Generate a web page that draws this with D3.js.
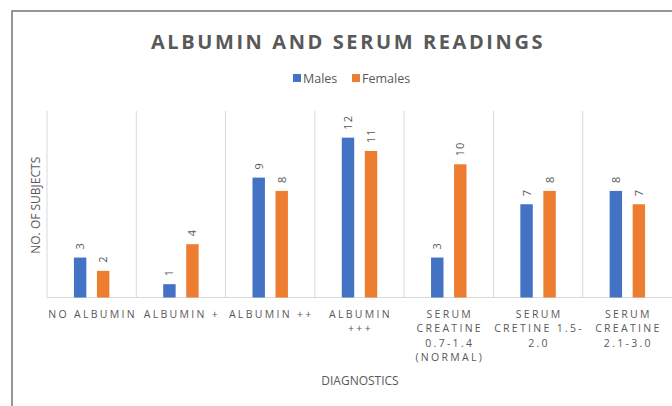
<!DOCTYPE html>
<html>
<head>
<meta charset="utf-8">
<script src="https://cdn.jsdelivr.net/npm/d3@7"></script>
<style>
  body { margin: 0; background: #fff; }
  text { font-family: "Open Sans", sans-serif; fill: #595959; }
</style>
</head>
<body>
<div id="chart"></div>
<script>
// data
const categories = [
  ["NO ALBUMIN"],
  ["ALBUMIN +"],
  ["ALBUMIN ++"],
  ["ALBUMIN", "+++"],
  ["SERUM", "CREATINE", "0.7-1.4", "(NORMAL)"],
  ["SERUM", "CRETINE 1.5-", "2.0"],
  ["SERUM", "CREATINE", "2.1-3.0"]
];
const seriesNames = ["Males", "Females"];
const males = [3, 1, 9, 12, 3, 7, 8];
const females = [2, 4, 8, 11, 10, 8, 7];
const yTicks = [0, 14];

const width = 672, height = 406;
const margin = { top: 111, bottom: 108.5, left: 47, right: 0 };

const svg = d3.select('#chart').append('svg')
  .attr('width', width)
  .attr('height', height);

// frame
svg.append('path')
  .attr('d', `M12,${height} L12,11 L${width},11`)
  .attr('fill', 'none')
  .attr('stroke', '#767676')
  .attr('stroke-width', 1.5);

const keys = categories.map((c, i) => i);
const x = d3.scaleBand()
  .domain(keys)
  .range([margin.left, width - margin.right])
  .padding(0);

const xSub = d3.scaleBand()
  .domain(seriesNames)
  .range([0, x.bandwidth()])
  .paddingInner(0.46)
  .paddingOuter(1.17);

const y = d3.scaleLinear()
  .domain(d3.extent(yTicks))
  .range([height - margin.bottom, margin.top]);

const color = d3.scaleOrdinal()
  .domain(seriesNames)
  .range(["#4472C4", "#ED7D31"]);

// vertical gridlines between categories
const edges = keys.map(k => x(k));
svg.append('g')
  .selectAll('line')
  .data(edges)
  .join('line')
    .attr('x1', d => d).attr('x2', d => d)
    .attr('y1', y(14)).attr('y2', y(0))
    .attr('stroke', '#d9d9d9')
    .attr('stroke-width', 1);

// baseline
svg.append('line')
  .attr('x1', x.range()[0]).attr('x2', x.range()[1])
  .attr('y1', y(0)).attr('y2', y(0))
  .attr('stroke', '#d9d9d9')
  .attr('stroke-width', 1);

// bars
const rows = keys.map(k => ({ k, Males: males[k], Females: females[k] }));

const groups = svg.append('g')
  .selectAll('g')
  .data(rows)
  .join('g')
    .attr('transform', d => `translate(${x(d.k)},0)`);

groups.selectAll('rect')
  .data(d => seriesNames.map(s => ({ s, v: d[s] })))
  .join('rect')
    .attr('x', d => xSub(d.s))
    .attr('y', d => y(d.v))
    .attr('width', xSub.bandwidth())
    .attr('height', d => y(0) - y(d.v))
    .attr('fill', d => color(d.s));

// value labels, rotated
groups.selectAll('text')
  .data(d => seriesNames.map(s => ({ s, v: d[s] })))
  .join('text')
    .attr('transform', d => `translate(${xSub(d.s) + xSub.bandwidth() / 2 + 4},${y(d.v) - 8}) rotate(-90)`)
    .attr('font-size', '11px')
    .attr('letter-spacing', '1px')
    .text(d => d.v);

// category labels
const xLabels = svg.append('g')
  .selectAll('text')
  .data(rows)
  .join('text')
    .attr('text-anchor', 'middle')
    .attr('font-size', '10.5px')
    .attr('letter-spacing', '2.3px');

xLabels.selectAll('tspan')
  .data(d => categories[d.k].map(line => ({ line, k: d.k })))
  .join('tspan')
    .attr('x', d => x(d.k) + x.bandwidth() / 2 + 1)
    .attr('y', (d, i) => y(0) + 20 + i * 14.5)
    .text(d => d.line);

// axis titles
svg.append('text')
  .attr('x', 360)
  .attr('y', 385)
  .attr('text-anchor', 'middle')
  .attr('font-size', '12px')
  .text('DIAGNOSTICS');

svg.append('text')
  .attr('transform', `translate(40,${(y(0) + y(14)) / 2 + 1}) rotate(-90)`)
  .attr('text-anchor', 'middle')
  .attr('font-size', '12px')
  .text('NO. OF SUBJECTS');

// title
svg.append('text')
  .attr('x', 348)
  .attr('y', 49)
  .attr('text-anchor', 'middle')
  .attr('font-size', '20px')
  .attr('font-weight', 'bold')
  .attr('letter-spacing', '2.6px')
  .text('ALBUMIN AND SERUM READINGS');

// legend
const legend = svg.append('g')
  .attr('transform', 'translate(293,78)');

const legendItems = legend.selectAll('g')
  .data(seriesNames)
  .join('g')
    .attr('transform', (d, i) => `translate(${i * 59},0)`);

legendItems.append('rect')
  .attr('x', 0).attr('y', -4)
  .attr('width', 8).attr('height', 8)
  .attr('fill', d => color(d));

legendItems.append('text')
  .attr('x', 10)
  .attr('y', 4.5)
  .attr('font-size', '12.5px')
  .text(d => d);
</script>
</body>
</html>
